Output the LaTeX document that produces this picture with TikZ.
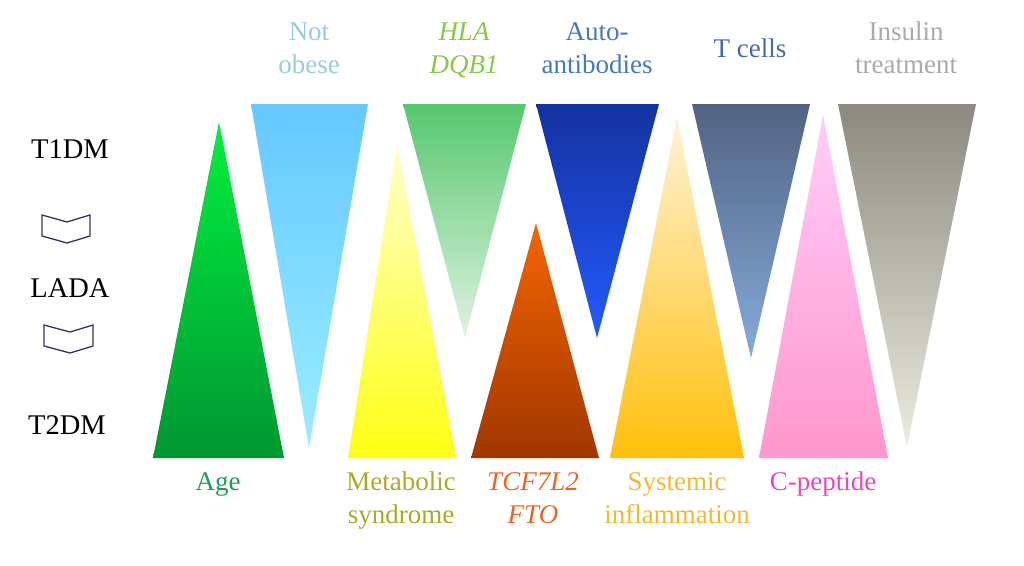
\documentclass[tikz,border=0pt]{standalone}
\usepackage{fontspec}
\setmainfont{Liberation Serif}
\definecolor{ageT}{RGB}{0,240,60}
\definecolor{ageB}{RGB}{0,150,50}
\definecolor{obT}{RGB}{100,200,255}
\definecolor{obB}{RGB}{155,238,255}
\definecolor{metT}{RGB}{255,255,204}
\definecolor{metB}{RGB}{255,255,20}
\definecolor{hlaT}{RGB}{85,200,110}
\definecolor{hlaB}{RGB}{225,242,225}
\definecolor{tcfT}{RGB}{245,100,0}
\definecolor{tcfB}{RGB}{160,55,0}
\definecolor{autT}{RGB}{20,50,160}
\definecolor{autB}{RGB}{35,90,255}
\definecolor{sysT}{RGB}{255,242,215}
\definecolor{sysB}{RGB}{255,192,10}
\definecolor{tcT}{RGB}{80,100,130}
\definecolor{tcB}{RGB}{135,170,220}
\definecolor{cpT}{RGB}{255,205,250}
\definecolor{cpB}{RGB}{255,150,205}
\definecolor{insT}{RGB}{140,138,128}
\definecolor{insB}{RGB}{235,235,225}
\definecolor{lbObese}{RGB}{150,205,220}
\definecolor{lbHla}{RGB}{135,200,70}
\definecolor{lbAuto}{RGB}{70,120,190}
\definecolor{lbTc}{RGB}{70,105,170}
\definecolor{lbIns}{RGB}{170,170,170}
\definecolor{lbAge}{RGB}{30,155,85}
\definecolor{lbMet}{RGB}{170,170,35}
\definecolor{lbTcf}{RGB}{235,100,35}
\definecolor{lbSys}{RGB}{240,185,50}
\definecolor{lbCp}{RGB}{235,70,185}
\definecolor{chev}{RGB}{50,50,100}
\tikzset{
  lbl/.style={anchor=base, inner sep=0pt, font=\fontsize{27}{33}\selectfont},
  side/.style={anchor=base, inner sep=0pt, font=\fontsize{28.5}{33}\selectfont, text=black},
  chevron/.style={draw=chev, line width=1.3pt, line join=miter}
}
\begin{document}
\begin{tikzpicture}[x=1pt,y=-1pt]
\useasboundingbox (0,0) rectangle (1024,565);
% upward triangles
\shade[top color=ageT, bottom color=ageB] (219,122) -- (284,458) -- (153,458) -- cycle;
\shade[top color=metT, bottom color=metB] (397,143) -- (456,458) -- (348,458) -- cycle;
\shade[top color=tcfT, bottom color=tcfB] (536,223) -- (599,458) -- (471,458) -- cycle;
\shade[top color=sysT, bottom color=sysB] (677,117) -- (744,458) -- (610,458) -- cycle;
\shade[top color=cpT, bottom color=cpB] (823,115) -- (888,458) -- (759,458) -- cycle;
% downward triangles
\shade[top color=obT, bottom color=obB] (251,104) -- (368,104) -- (309,448) -- cycle;
\shade[top color=hlaT, bottom color=hlaB] (403,104) -- (526,104) -- (465,338) -- cycle;
\shade[top color=autT, bottom color=autB] (536,104) -- (659,104) -- (597,338) -- cycle;
\shade[top color=tcT, bottom color=tcB] (692,104) -- (810,104) -- (751,358) -- cycle;
\shade[top color=insT, bottom color=insB] (838,104) -- (976,104) -- (907,447) -- cycle;
% side labels
\node[side] (t1dm) at (70,158) {T1DM};
\node[side] (lada) at (70,297) {LADA};
\node[side] (t2dm) at (67,434) {T2DM};
\draw[chevron] (42,215) -- (67,222) -- (90,215) -- (90,236) -- (67,243) -- (42,236) -- cycle;
\draw[chevron] (44,325) -- (70,332) -- (93,325) -- (93,346) -- (70,353) -- (44,346) -- cycle;
% top labels
\node[lbl, text=lbObese] (ob1) at (309,40) {Not};
\node[lbl, text=lbObese] (ob2) at (309,73) {obese};
\node[lbl, text=lbHla] (hla1) at (464,40) {\itshape HLA};
\node[lbl, text=lbHla] (hla2) at (464,73) {\itshape DQB1};
\node[lbl, text=lbAuto] (au1) at (597,40) {Auto-};
\node[lbl, text=lbAuto] (au2) at (597,73) {antibodies};
\node[lbl, text=lbTc] (tc) at (750,57) {T cells};
\node[lbl, text=lbIns] (in1) at (906,40) {Insulin};
\node[lbl, text=lbIns] (in2) at (906,73) {treatment};
% bottom labels
\node[lbl, text=lbAge] (age) at (218,490) {Age};
\node[lbl, text=lbMet] (me1) at (401,490) {Metabolic};
\node[lbl, text=lbMet] (me2) at (401,523) {syndrome};
\node[lbl, text=lbTcf] (tf1) at (533,490) {\itshape TCF7L2};
\node[lbl, text=lbTcf] (tf2) at (533,523) {\itshape FTO};
\node[lbl, text=lbSys] (sy1) at (677,490) {Systemic};
\node[lbl, text=lbSys] (sy2) at (677,523) {inflammation};
\node[lbl, text=lbCp] (cp) at (823,490) {C-peptide};
\end{tikzpicture}
\end{document}
